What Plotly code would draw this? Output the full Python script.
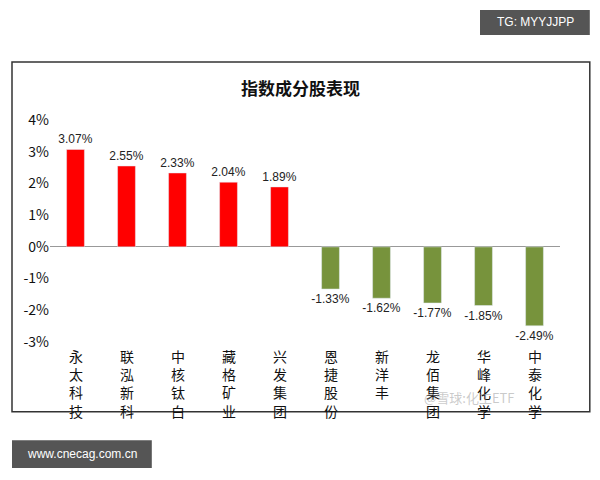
import plotly.graph_objects as go

names = ["永太科技", "联泓新科", "中核钛白", "藏格矿业", "兴发集团",
         "恩捷股份", "新洋丰", "龙佰集团", "华峰化学", "中泰化学"]
values = [3.07, 2.55, 2.33, 2.04, 1.89, -1.33, -1.62, -1.77, -1.85, -2.49]
y_ticks = [4, 3, 2, 1, 0, -1, -2, -3]

colors = ["#ff0000" if v > 0 else "#77933c" for v in values]
labels = ["%.2f%%" % v for v in values]

fig = go.Figure()
fig.add_trace(go.Bar(
    x=names, y=values, marker_color=colors, width=0.35,
    text=labels, textposition="outside", cliponaxis=False, constraintext="none",
    textfont=dict(size=12, color="#222", family="Liberation Sans"),
))

# vertical category labels under the axis
for n in names:
    fig.add_annotation(x=n, y=-3, yref="y", text="<br>".join(n), showarrow=False,
                       yanchor="top", yshift=-2, font=dict(size=14, color="#111"))

fig.add_annotation(x=0.5, y=0.817, xref="paper", yref="paper", text="<b>指数成分股表现</b>",
                   showarrow=False, xanchor="center", yanchor="middle",
                   font=dict(size=17, color="#111"))

# corner badges
fig.add_shape(type="rect", xref="paper", yref="paper", x0=0.8, x1=0.983, y0=0.979, y1=0.927,
              fillcolor="#555", line_width=0, layer="below")
fig.add_annotation(x=0.892, y=0.954, xref="paper", yref="paper", text="TG: MYYJJPP",
                   showarrow=False, xanchor="center", yanchor="middle",
                   font=dict(size=12, color="white", family="Liberation Sans"))
fig.add_shape(type="rect", xref="paper", yref="paper", x0=0.02, x1=0.253, y0=0.083, y1=0.025,
              fillcolor="#555", line_width=0, layer="below")
fig.add_annotation(x=0.137, y=0.054, xref="paper", yref="paper", text="www.cnecag.com.cn",
                   showarrow=False, xanchor="center", yanchor="middle",
                   font=dict(size=12, color="white", family="Liberation Sans"))
fig.add_annotation(x=0.783, y=0.171, xref="paper", yref="paper", text="@雪球:化工ETF",
                   showarrow=False, xanchor="center", yanchor="middle",
                   font=dict(size=13, color="rgba(150,150,150,0.5)"))

# chart frame
fig.add_shape(type="rect", xref="paper", yref="paper", x0=0.02, x1=0.983, y0=0.142, y1=0.871,
              line=dict(color="#333", width=1.5), layer="below")

fig.update_layout(
    width=600, height=480, paper_bgcolor="white", plot_bgcolor="white",
    margin=dict(l=0, r=0, t=0, b=0), showlegend=False,
    font=dict(family="Noto Sans CJK SC"),
    xaxis=dict(domain=[50 / 600, 560 / 600], showticklabels=False, showline=False,
               showgrid=False, zeroline=False, automargin=False),
    yaxis=dict(domain=[1 - 342 / 480, 1 - 120 / 480], range=[-3, 4], tickvals=y_ticks,
               ticktext=["%d%%" % t for t in y_ticks], automargin=False,
               showgrid=False, zeroline=True, zerolinecolor="#999", zerolinewidth=1,
               tickfont=dict(size=14, color="#111"), ticks="", showline=False),
)
fig.write_html("out.html", config={"displayModeBar": False},
               post_script="document.body.style.margin='0';")
